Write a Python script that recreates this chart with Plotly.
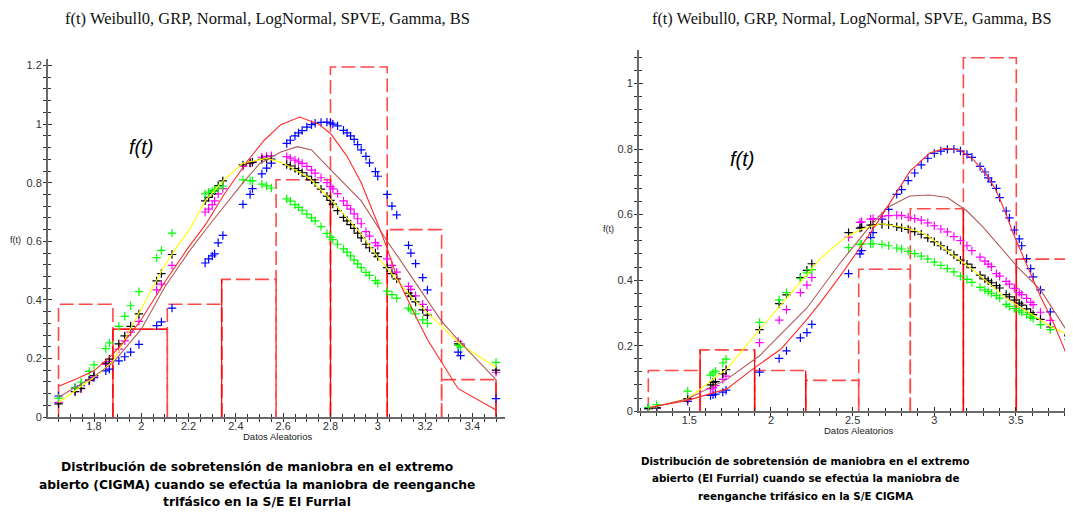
import plotly.graph_objects as go

# ---------------- LEFT PANEL DATA ----------------
L_x = [1.65, 1.72, 1.745, 1.78, 1.80, 1.85, 1.865, 1.905, 1.93, 1.955, 1.99, 2.065, 2.085, 2.13,
       2.27, 2.285, 2.30, 2.31, 2.325, 2.345, 2.43, 2.46, 2.47, 2.51, 2.53, 2.55, 2.615, 2.63,
       2.65, 2.665, 2.68, 2.70, 2.72, 2.735, 2.76, 2.785, 2.80, 2.81, 2.83, 2.855, 2.87, 2.885,
       2.90, 2.915, 2.93, 2.95, 2.965, 2.99, 3.00, 3.04, 3.06, 3.08, 3.13, 3.14, 3.16, 3.19,
       3.21, 3.34, 3.35, 3.50]
L_black = [0.045, 0.087, 0.098, 0.126, 0.142, 0.184, 0.198, 0.25, 0.277, 0.31, 0.352, 0.465, 0.49, 0.555,
           0.738, 0.75, 0.763, 0.772, 0.79, 0.806, 0.861, 0.868, 0.87, 0.88, 0.881, 0.881, 0.862, 0.857,
           0.848, 0.841, 0.834, 0.822, 0.81, 0.80, 0.778, 0.754, 0.74, 0.727, 0.705, 0.682, 0.67, 0.657,
           0.644, 0.628, 0.612, 0.59, 0.578, 0.56, 0.548, 0.51, 0.49, 0.472, 0.423, 0.413, 0.393, 0.366,
           0.348, 0.25, 0.245, 0.16]
L_magenta = [0.05, 0.087, 0.097, 0.124, 0.14, 0.18, 0.19, 0.232, 0.26, 0.29, 0.327, 0.434, 0.454, 0.518,
             0.70, 0.71, 0.725, 0.738, 0.762, 0.78, 0.856, 0.866, 0.87, 0.887, 0.89, 0.892, 0.889, 0.884,
             0.877, 0.871, 0.866, 0.856, 0.843, 0.833, 0.817, 0.80, 0.787, 0.779, 0.763, 0.738, 0.723, 0.71,
             0.694, 0.677, 0.66, 0.633, 0.618, 0.595, 0.585, 0.54, 0.518, 0.495, 0.446, 0.436, 0.414, 0.385,
             0.365, 0.258, 0.25, 0.153]
L_green = [0.065, 0.10, 0.119, 0.156, 0.178, 0.234, 0.253, 0.31, 0.344, 0.38, 0.428, 0.544, 0.569, 0.628,
           0.762, 0.768, 0.772, 0.776, 0.782, 0.788, 0.81, 0.807, 0.806, 0.795, 0.789, 0.782, 0.745, 0.737,
           0.725, 0.716, 0.706, 0.693, 0.68, 0.67, 0.65, 0.627, 0.614, 0.606, 0.59, 0.574, 0.563, 0.55,
           0.536, 0.523, 0.51, 0.494, 0.484, 0.466, 0.457, 0.43, 0.418, 0.406, 0.372, 0.366, 0.352, 0.332,
           0.32, 0.245, 0.24, 0.187]
L_blue = [0.072, 0.10, 0.107, 0.125, 0.135, 0.158, 0.164, 0.192, 0.206, 0.222, 0.248, 0.312, 0.325, 0.372,
          0.526, 0.54, 0.55, 0.557, 0.595, 0.62, 0.726, 0.76, 0.78, 0.83, 0.85, 0.867, 0.934, 0.945,
          0.96, 0.97, 0.978, 0.99, 0.998, 1.003, 1.006, 1.007, 1.004, 1.0, 0.994, 0.979, 0.97, 0.96,
          0.948, 0.93, 0.912, 0.89, 0.868, 0.838, 0.822, 0.76, 0.72, 0.69, 0.586, 0.56, 0.524, 0.476,
          0.434, 0.222, 0.21, 0.063]

L_red_x = [1.65, 1.72, 1.80, 1.88, 1.95, 2.00, 2.10, 2.20, 2.27, 2.35, 2.45, 2.52, 2.59, 2.67, 2.75,
           2.80, 2.87, 2.93, 3.00, 3.04, 3.08, 3.12, 3.16, 3.21, 3.27, 3.34, 3.50]
L_red_y = [0.105, 0.128, 0.158, 0.215, 0.28, 0.333, 0.462, 0.58, 0.655, 0.76, 0.875, 0.945, 0.998, 1.024, 1.0,
           0.968, 0.89, 0.80, 0.66, 0.575, 0.48, 0.41, 0.344, 0.265, 0.187, 0.097, 0.024]
L_brown_x = [1.65, 1.80, 1.88, 2.00, 2.10, 2.20, 2.28, 2.43, 2.50, 2.59, 2.66, 2.72, 2.80, 2.93, 3.04, 3.10,
             3.27, 3.35, 3.50]
L_brown_y = [0.068, 0.139, 0.185, 0.30, 0.445, 0.563, 0.648, 0.80, 0.865, 0.905, 0.923, 0.912, 0.845, 0.738,
             0.60, 0.53, 0.327, 0.254, 0.128]
L_yellow_x = [1.65, 1.80, 1.88, 2.00, 2.10, 2.15, 2.21, 2.27, 2.35, 2.43, 2.53, 2.60, 2.71, 2.80, 2.93, 3.00,
              3.14, 3.27, 3.35, 3.50]
L_yellow_y = [0.05, 0.136, 0.19, 0.372, 0.52, 0.58, 0.648, 0.738, 0.81, 0.867, 0.883, 0.867, 0.816, 0.743,
              0.625, 0.546, 0.411, 0.31, 0.248, 0.17]

L_edges = [1.65, 1.88, 2.11, 2.34, 2.57, 2.80, 3.04, 3.27, 3.50]
L_heights = [0.385, 0.30, 0.385, 0.47, 0.81, 1.195, 0.64, 0.128]

# ---------------- RIGHT PANEL DATA ----------------
R_x = [1.25, 1.30, 1.49, 1.63, 1.645, 1.66, 1.705, 1.725, 1.93, 2.05, 2.095, 2.18, 2.22, 2.25, 2.475,
       2.545, 2.555, 2.61, 2.625, 2.68, 2.72, 2.77, 2.80, 2.84, 2.88, 2.92, 2.96, 3.00, 3.04, 3.08,
       3.12, 3.16, 3.20, 3.23, 3.28, 3.31, 3.33, 3.35, 3.38, 3.40, 3.44, 3.46, 3.49, 3.52, 3.535,
       3.565, 3.59, 3.605, 3.65, 3.71, 3.82]
R_blue = [0.01, 0.01, 0.03, 0.048, 0.05, 0.052, 0.058, 0.064, 0.119, 0.161, 0.184, 0.224, 0.24, 0.265, 0.42,
          0.48, 0.49, 0.53, 0.545, 0.586, 0.616, 0.662, 0.676, 0.704, 0.727, 0.752, 0.772, 0.787, 0.794, 0.799,
          0.80, 0.794, 0.784, 0.775, 0.747, 0.73, 0.712, 0.70, 0.68, 0.652, 0.611, 0.59, 0.553, 0.526, 0.505,
          0.466, 0.435, 0.41, 0.37, 0.303, 0.187]
R_black = [0.008, 0.01, 0.038, 0.08, 0.088, 0.09, 0.114, 0.127, 0.249, 0.328, 0.355, 0.408, 0.43, 0.45, 0.545,
           0.559, 0.561, 0.568, 0.569, 0.57, 0.569, 0.563, 0.56, 0.555, 0.548, 0.54, 0.529, 0.517, 0.505, 0.492,
           0.477, 0.461, 0.449, 0.438, 0.415, 0.404, 0.398, 0.392, 0.383, 0.376, 0.356, 0.349, 0.339, 0.33, 0.324,
           0.312, 0.301, 0.295, 0.28, 0.257, 0.232]
R_magenta = [0.008, 0.01, 0.035, 0.068, 0.072, 0.078, 0.097, 0.107, 0.209, 0.278, 0.31, 0.362, 0.385, 0.408, 0.531,
             0.576, 0.578, 0.586, 0.588, 0.595, 0.597, 0.598, 0.597, 0.592, 0.588, 0.583, 0.575, 0.566, 0.556, 0.547,
             0.533, 0.521, 0.505, 0.49, 0.47, 0.458, 0.449, 0.441, 0.42, 0.412, 0.396, 0.388, 0.375, 0.362, 0.356,
             0.344, 0.332, 0.325, 0.302, 0.277, 0.229]
R_green = [0.012, 0.02, 0.061, 0.11, 0.117, 0.122, 0.147, 0.159, 0.271, 0.34, 0.362, 0.405, 0.422, 0.432, 0.499,
           0.509, 0.51, 0.511, 0.511, 0.509, 0.505, 0.498, 0.495, 0.488, 0.481, 0.473, 0.465, 0.455, 0.445, 0.435,
           0.425, 0.412, 0.402, 0.393, 0.378, 0.37, 0.365, 0.36, 0.353, 0.345, 0.326, 0.32, 0.313, 0.306, 0.302,
           0.295, 0.287, 0.283, 0.264, 0.249, 0.219]

R_red_x = [1.26, 1.49, 1.73, 1.89, 2.06, 2.22, 2.30, 2.42, 2.61, 2.67, 2.85, 2.97, 3.06, 3.16, 3.24, 3.32,
           3.38, 3.44, 3.48, 3.57, 3.65, 3.73, 3.82]
R_red_y = [0.012, 0.033, 0.068, 0.129, 0.189, 0.28, 0.33, 0.41, 0.545, 0.59, 0.732, 0.787, 0.802, 0.797, 0.767,
           0.722, 0.672, 0.601, 0.546, 0.44, 0.35, 0.269, 0.161]
R_brown_x = [1.26, 1.49, 1.73, 1.93, 2.22, 2.30, 2.42, 2.59, 2.71, 2.85, 2.97, 3.08, 3.20, 3.30, 3.51, 3.65, 3.82]
R_brown_y = [0.01, 0.038, 0.097, 0.169, 0.315, 0.37, 0.45, 0.555, 0.621, 0.657, 0.66, 0.652, 0.611, 0.561,
             0.44, 0.37, 0.239]
R_yellow_x = [1.26, 1.49, 1.73, 1.93, 2.14, 2.26, 2.30, 2.42, 2.46, 2.55, 2.67, 2.80, 2.91, 2.97, 3.24, 3.44,
              3.71, 3.82]
R_yellow_y = [0.01, 0.038, 0.129, 0.249, 0.37, 0.44, 0.465, 0.516, 0.531, 0.555, 0.572, 0.562, 0.548, 0.531,
              0.43, 0.345, 0.259, 0.234]

R_edges = [1.249, 1.566, 1.90, 2.213, 2.537, 2.853, 3.178, 3.502, 3.82]
R_heights = [0.124, 0.187, 0.124, 0.094, 0.433, 0.618, 1.079, 0.464]

TITLE = "f(t) Weibull0, GRP, Normal, LogNormal, SPVE, Gamma, BS"
X_TITLE = "Datos Aleatorios"
CAP_LEFT = ["Distribución de sobretensión de maniobra en el extremo",
            "abierto (CIGMA) cuando se efectúa la maniobra de reenganche",
            "trifásico en la S/E El Furrial"]
CAP_RIGHT = ["Distribución de sobretensión de maniobra en el extremo",
             "abierto (El Furrial) cuando se efectúa la maniobra de",
             "reenganche trifásico en la S/E CIGMA"]

# the page body adds an 8px margin; the figure is sized and positioned to compensate
OFF = 8
W, H = 1073 - OFF, 515 - OFF
fig = go.Figure()

DASH_RED = "#ff4a4a"
SOLID_RED = "#ff0000"
DASH = "14px,5px"


def hist_traces(edges, heights, xa, ya, solid_edges, solid_tops):
    xs, ys = [], []
    for i, h in enumerate(heights):
        xs += [edges[i], edges[i], edges[i + 1], edges[i + 1], None]
        ys += [0, h, h, 0, None]
    fig.add_trace(go.Scatter(x=xs, y=ys, mode="lines", xaxis=xa, yaxis=ya,
                             line=dict(color=DASH_RED, width=1.6, dash=DASH),
                             hoverinfo="skip", showlegend=False))
    sx, sy = [], []
    for ei, hi in solid_edges:
        sx += [edges[ei], edges[ei], None]
        sy += [0, heights[hi], None]
    for bi in solid_tops:
        sx += [edges[bi], edges[bi + 1], None]
        sy += [heights[bi], heights[bi], None]
    fig.add_trace(go.Scatter(x=sx, y=sy, mode="lines", xaxis=xa, yaxis=ya,
                             line=dict(color=SOLID_RED, width=1.2),
                             hoverinfo="skip", showlegend=False))


def panel(xa, ya, sx, blue, magenta, black, green, red, brown, yellow):
    for name, ys, col in [("Weibull0", blue, "#0000ff"), ("GRP", magenta, "#ff00ff"),
                          ("Normal", black, "#000000"), ("LogNormal", green, "#00ff00")]:
        fig.add_trace(go.Scatter(x=sx, y=ys, mode="markers", name=name, xaxis=xa, yaxis=ya,
                                 marker=dict(symbol="cross-thin", size=6, color=col,
                                             line=dict(width=1.2, color=col)),
                                 showlegend=False))
    for name, (cx, cy), col in [("SPVE", yellow, "#ffff00"), ("Gamma", brown, "#b45a5a"),
                                ("BS", red, "#ff2a2a")]:
        fig.add_trace(go.Scatter(x=cx, y=cy, mode="lines", name=name, xaxis=xa, yaxis=ya,
                                 line=dict(color=col, width=1.1), showlegend=False))


hist_traces(L_edges, L_heights, "x", "y", [(1, 1), (3, 3), (5, 4), (6, 6), (8, 7)], [1])
hist_traces(R_edges, R_heights, "x2", "y2", [(1, 1), (2, 1), (3, 2), (6, 5), (7, 7)], [])

panel("x", "y", L_x, L_blue, L_magenta, L_black, L_green,
      (L_red_x, L_red_y), (L_brown_x, L_brown_y), (L_yellow_x, L_yellow_y))
panel("x2", "y2", R_x, R_blue, R_magenta, R_black, R_green,
      (R_red_x, R_red_y), (R_brown_x, R_brown_y), (R_yellow_x, R_yellow_y))

# empty traces so the overlay (inside-tick) axes are drawn
fig.add_trace(go.Scatter(x=[], y=[], xaxis="x3", yaxis="y3", showlegend=False))
fig.add_trace(go.Scatter(x=[], y=[], xaxis="x4", yaxis="y4", showlegend=False))


def px(v):
    return (v - OFF) / W


def py(v):
    return 1 - (v - OFF) / H


L_xr = [1.6055, 3.538]
L_yr = [0, 1.221]
R_xr = [1.192, 3.843]
R_yr = [0, 1.104]
L_xd = [px(48), px(505)]
L_yd = [py(422), py(60)]
R_xd = [px(639), min(1.0, px(1072))]
R_yd = [py(416), py(50)]

tickfont = dict(family="Liberation Sans, Arial, sans-serif", size=11, color="#333333")


def main_axis(dom, rng, anchor, dtick, mdtick, standoff):
    return dict(domain=dom, range=rng, anchor=anchor, showline=True, linecolor="#6a6a6a", linewidth=2,
                ticks="outside", ticklen=3, tickwidth=1.3, tickcolor="#333333", dtick=dtick, tick0=0,
                minor=dict(dtick=mdtick, ticks="outside", ticklen=3, tickwidth=1.2, tickcolor="#333333"),
                ticklabelstandoff=standoff,
                showgrid=False, zeroline=False, tickfont=tickfont, fixedrange=True)


def inside_axis(over, rng, anchor, dtick, mdtick):
    return dict(overlaying=over, range=rng, anchor=anchor, showline=False, ticks="inside", ticklen=4,
                tickwidth=1.3, tickcolor="#333333", dtick=dtick, tick0=0,
                minor=dict(dtick=mdtick, ticks="inside", ticklen=3, tickwidth=1.2, tickcolor="#333333"),
                showticklabels=False, showgrid=False, zeroline=False, fixedrange=True)


fig.update_layout(
    width=W, height=H, margin=dict(l=0, r=0, t=0, b=0),
    paper_bgcolor="white", plot_bgcolor="white", showlegend=False,
    xaxis=main_axis(L_xd, L_xr, "y", 0.2, 0.05, -5),
    yaxis=main_axis(L_yd, L_yr, "x", 0.2, 0.04, -1),
    xaxis2=main_axis(R_xd, R_xr, "y2", 0.5, 0.1, -5),
    yaxis2=main_axis(R_yd, R_yr, "x2", 0.2, 0.04, -1),
    xaxis3=inside_axis("x", L_xr, "y", 0.2, 0.05),
    yaxis3=inside_axis("y", L_yr, "x", 0.2, 0.04),
    xaxis4=inside_axis("x2", R_xr, "y2", 0.5, 0.1),
    yaxis4=inside_axis("y2", R_yr, "x2", 0.2, 0.04),
)

serif = "Liberation Serif, Times New Roman, serif"
sans = "Liberation Sans, Arial, sans-serif"
heavy = "DejaVu Sans, Liberation Sans, sans-serif"
ann = []


def add_text(text, x, y, size, family, color="#000000", bold=False, italic=False):
    t = text
    if bold:
        t = "<b>" + t + "</b>"
    if italic:
        t = "<i>" + t + "</i>"
    ann.append(dict(text=t, x=px(x), y=py(y), xref="paper", yref="paper", showarrow=False,
                    xanchor="center", yanchor="middle", font=dict(size=size, family=family, color=color)))


add_text(TITLE, 267, 19, 16.5, serif, "#111111")
add_text(TITLE, 852, 19, 16.3, serif, "#111111")
add_text("f(t)", 141, 149, 20, sans, italic=True)
add_text("f(t)", 742, 161, 20, sans, italic=True)
add_text("f(t)", 15, 243, 9, sans, "#222222")
add_text("f(t)", 608, 232, 9, sans, "#222222")
add_text(X_TITLE, 277, 442, 9.5, sans, "#222222")
add_text(X_TITLE, 858, 436, 9.5, sans, "#222222")
for line, yy in zip(CAP_LEFT, [472, 491, 508]):
    add_text(line, 257, yy, 12.3, heavy, bold=True)
for line, yy in zip(CAP_RIGHT, [466, 484, 502]):
    add_text(line, 805, yy, 10.3, heavy, bold=True)

fig.update_layout(annotations=ann)
fig.write_html("out.html")
